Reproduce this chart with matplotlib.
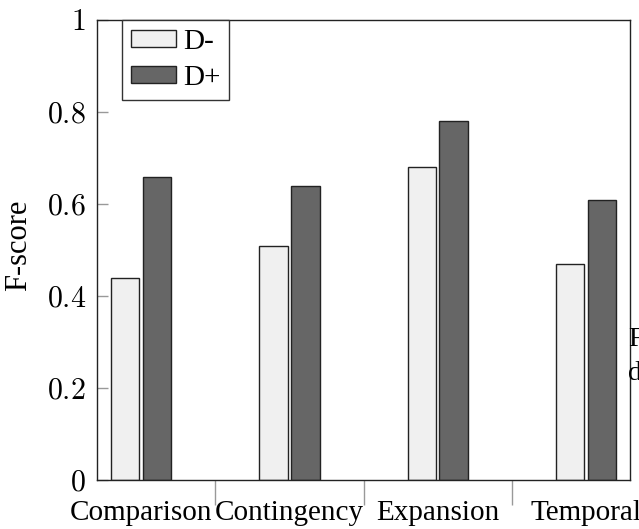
import numpy as np
import matplotlib
matplotlib.use("Agg")
import matplotlib.pyplot as plt

plt.rcParams['font.family'] = ['Liberation Serif', 'DejaVu Serif']
plt.rcParams['mathtext.fontset'] = 'cm'

# data
categories = ['Comparison', 'Contingency', 'Expansion', 'Temporal']
d_minus = [0.44, 0.51, 0.68, 0.47]
d_plus = [0.66, 0.64, 0.78, 0.61]
y_ticks = [0, 0.2, 0.4, 0.6, 0.8, 1]
y_tick_labels = ['$0$', '$0.2$', '$0.4$', '$0.6$', '$0.8$', '$1$']

fig = plt.figure(figsize=(6.39, 5.29), dpi=100)
ax = fig.add_axes([0.1518, 0.0917, 0.986 - 0.1518, 0.962 - 0.0917])

x = np.arange(len(categories))
w = 0.19
off = 0.108
ax.bar(x - off, d_minus, w, color='#f0f0f0', edgecolor='#222222', linewidth=1, label='D-')
ax.bar(x + off, d_plus, w, color='#666666', edgecolor='#222222', linewidth=1, label='D+')

ax.set_xlim(-0.3, 3.3)
ax.set_ylim(0, 1)

# y axis
ax.set_yticks(y_ticks)
ax.set_yticklabels(y_tick_labels, fontsize=21.5)
ax.tick_params(axis='y', direction='in', length=8, width=1, color='#999999', pad=8)
ax.set_ylabel('F-score', fontsize=22)
ax.yaxis.set_label_coords(-(97 - 33) / 533, 0.51)

# x axis: labels at group centers, gray separator ticks between groups
ax.set_xticks(x)
ax.set_xticklabels(categories, fontsize=21)
ax.tick_params(axis='x', which='major', length=0, pad=14)
ax.set_xticks([0.5, 1.5, 2.5], minor=True)
ax.tick_params(axis='x', which='minor', direction='out', length=18, width=1, color='#999999')

for s in ax.spines.values():
    s.set_linewidth(1)
    s.set_color('#222222')

leg = ax.legend(loc='upper left', bbox_to_anchor=(0.047, 1.0), borderaxespad=0,
                fontsize=21, fancybox=False, framealpha=1, edgecolor='#333333',
                handlelength=1.55, handleheight=0.55, handletextpad=0.25,
                labelspacing=0.34, borderpad=0.3)
leg.get_frame().set_linewidth(1)

# clipped caption text on the right edge
fig.text(628 / 639, 1 - 340 / 529, 'F', fontsize=20, va='center', ha='left')
fig.text(628 / 639, 1 - 373 / 529, 'd', fontsize=20, va='center', ha='left')

fig.savefig('out.png', dpi=100)
